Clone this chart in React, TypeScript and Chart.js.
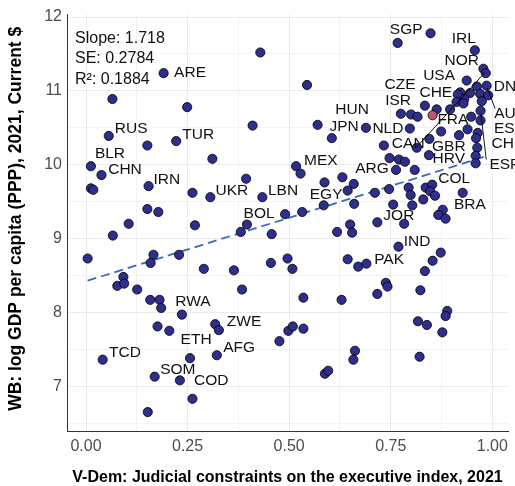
import React, { useEffect, useRef } from 'react';
import { Chart, registerables } from 'chart.js';
Chart.register(...registerables);

// V-Dem judicial constraints index (x) and log GDP per capita (y)
const judicialX = [
  0.191, 0.065, 0.249, 0.056, 0.151, 0.222, 0.311, 0.012, 0.038, 0.012, 0.018, 0.154, 0.262, 0.306,
  0.151, 0.178, 0.105, 0.268, 0.066, 0.004, 0.166, 0.159, 0.229, 0.290, 0.092, 0.077, 0.094, 0.126,
  0.158, 0.181, 0.185, 0.236, 0.176, 0.205, 0.318, 0.327, 0.041, 0.256, 0.322, 0.169, 0.231, 0.262,
  0.152,
  0.429, 0.544, 0.410, 0.570, 0.605, 0.689, 0.517, 0.528, 0.394, 0.587, 0.631, 0.659, 0.644, 0.434,
  0.660, 0.585, 0.490, 0.532, 0.396, 0.381, 0.457, 0.650, 0.618, 0.655, 0.455, 0.496, 0.508, 0.364,
  0.644, 0.670, 0.690, 0.384, 0.535, 0.629, 0.476, 0.498, 0.509, 0.535, 0.662, 0.658, 0.588, 0.596,
  0.848, 0.767, 0.957, 0.978, 0.984, 0.937, 0.986, 0.962, 0.921, 0.945, 0.970, 0.990, 0.915, 0.931,
  0.912, 0.929, 0.974, 0.834, 0.863, 0.896, 0.948, 0.971, 0.971, 0.775, 0.800, 0.816, 0.797,
  0.874, 0.918, 0.939, 0.964, 0.960, 0.963, 0.959, 0.959, 0.845, 0.814, 0.844, 0.733, 0.747, 0.770,
  0.785, 0.763, 0.809, 0.711, 0.746, 0.794, 0.799, 0.836, 0.852, 0.847, 0.859, 0.830, 0.927, 0.756,
  0.803, 0.878, 0.867, 0.885, 0.717, 0.783, 0.769, 0.873, 0.853, 0.834, 0.738, 0.742, 0.717, 0.823,
  0.889, 0.885, 0.817, 0.839, 0.877, 0.821,
];
const gdpY = [
  11.24, 10.89, 10.78, 10.39, 10.26, 10.32, 10.08, 9.98, 9.86, 9.68, 9.66, 9.71, 9.62, 9.56,
  9.40, 9.36, 9.20, 9.18, 9.04, 8.73, 8.78, 8.67, 8.78, 8.59, 8.48, 8.36, 8.39, 8.31,
  8.17, 8.17, 8.06, 7.97, 7.81, 7.75, 7.84, 7.76, 7.36, 7.38, 7.42, 7.13, 7.08, 6.83,
  6.65,
  11.52, 11.08, 10.53, 10.54, 10.36, 10.50, 9.98, 9.88, 9.81, 9.76, 9.83, 9.74, 9.65, 9.56,
  9.47, 9.45, 9.33, 9.36, 9.19, 9.09, 9.06, 9.19, 9.09, 9.08, 8.67, 8.73, 8.59, 8.57,
  8.72, 8.62, 8.66, 8.31, 8.20, 8.17, 7.61, 7.75, 7.81, 7.78, 7.48, 7.36, 7.17, 7.21,
  11.78, 11.65, 11.55, 11.30, 11.24, 11.14, 11.07, 11.06, 10.98, 10.97, 10.96, 10.94, 10.95, 10.89,
  10.85, 10.83, 10.86, 10.80, 10.75, 10.75, 10.65, 10.73, 10.60, 10.69, 10.68, 10.65, 10.49,
  10.45, 10.40, 10.48, 10.43, 10.36, 10.23, 10.12, 10.02, 10.35, 10.23, 10.13, 10.26, 10.09, 10.07,
  10.04, 9.93, 9.93, 9.62, 9.67, 9.69, 9.59, 9.69, 9.73, 9.64, 9.58, 9.53, 9.62, 9.46,
  9.45, 9.39, 9.32, 9.27, 9.22, 9.20, 8.89, 8.81, 8.70, 8.56, 8.40, 8.35, 8.25, 8.30,
  8.02, 7.95, 7.88, 7.83, 7.73, 7.40,
];

// highlighted country (red)
const highlightX = [0.853];
const highlightY = [10.67];

// fit statistics
const fitSlope = 1.718;
const fitIntercept = 8.423;
const statsLines = ['Slope: 1.718', 'SE: 0.2784', 'R\u00b2: 0.1884'];

// country labels (text centres, data units)
const labelCodes = ['ARE', 'RUS', 'TUR', 'BLR', 'CHN', 'IRN', 'UKR', 'LBN', 'MEX', 'EGY', 'BOL', 'ARG',
  'HUN', 'JPN', 'NLD', 'ISR', 'CZE', 'SGP', 'IRL', 'NOR', 'USA', 'CHE', 'DNK', 'FRA', 'AUS', 'EST',
  'CAN', 'GBR', 'CHL', 'HRV', 'ESP', 'COL', 'BRA', 'JOR', 'IND', 'PAK', 'RWA', 'ETH', 'ZWE', 'AFG',
  'TCD', 'SOM', 'COD'];
const labelX = [0.256, 0.111, 0.276, 0.059, 0.096, 0.199, 0.359, 0.485, 0.578, 0.591, 0.426, 0.704,
  0.655, 0.635, 0.743, 0.768, 0.773, 0.788, 0.930, 0.925, 0.869, 0.861, 1.044, 0.903, 1.044, 1.041,
  0.793, 0.893, 1.036, 0.893, 1.031, 0.906, 0.945, 0.770, 0.815, 0.746, 0.263, 0.271, 0.389, 0.377,
  0.096, 0.226, 0.308];
const labelY = [11.25, 10.49, 10.41, 10.15, 9.93, 9.80, 9.65, 9.65, 10.06, 9.60, 9.34, 9.95,
  10.74, 10.51, 10.49, 10.86, 11.09, 11.83, 11.71, 11.41, 11.21, 10.97, 11.05, 10.61, 10.69, 10.49,
  10.28, 10.24, 10.28, 10.08, 10.00, 9.81, 9.46, 9.31, 8.96, 8.72, 8.14, 7.63, 7.87, 7.52,
  7.46, 7.23, 7.08];

// label connector segments [x1, y1, x2, y2]
const segments = [
  [0.812, 10.23, 0.982, 11.25],
  [0.987, 11.04, 1.007, 10.76],
  [0.972, 10.69, 0.985, 10.07],
];

const xMajor = [0, 0.25, 0.5, 0.75, 1];
const xMinor = [0.125, 0.375, 0.625, 0.875];
const yMajor = [7, 8, 9, 10, 11, 12];
const yMinor = [6.5, 7.5, 8.5, 9.5, 10.5, 11.5];

const FONT = '"Liberation Sans", Arial, sans-serif';

export default function App() {
  const ref = useRef<HTMLCanvasElement | null>(null);
  useEffect(() => {
    document.body.style.margin = '0';
    const canvas = ref.current;
    if (!canvas) return;
    const xs = judicialX;
    const xmin = Math.min(...xs);
    const xmax = Math.max(...xs);

    const annot = {
      id: 'annot',
      afterDatasetsDraw(chart: any) {
        const { ctx, scales, chartArea } = chart;
        const sx = scales.x, sy = scales.y;
        ctx.save();
        ctx.strokeStyle = '#000';
        ctx.lineWidth = 0.9;
        segments.forEach((s) => {
          ctx.beginPath();
          ctx.moveTo(sx.getPixelForValue(s[0]), sy.getPixelForValue(s[1]));
          ctx.lineTo(sx.getPixelForValue(s[2]), sy.getPixelForValue(s[3]));
          ctx.stroke();
        });
        ctx.fillStyle = '#111';
        ctx.font = `15.5px ${FONT}`;
        ctx.textAlign = 'center';
        ctx.textBaseline = 'middle';
        labelCodes.forEach((c, i) => {
          ctx.fillText(c, sx.getPixelForValue(labelX[i]), sy.getPixelForValue(labelY[i]));
        });
        ctx.textAlign = 'left';
        ctx.font = `16px ${FONT}`;
        statsLines.forEach((s, i) => {
          ctx.fillText(s, chartArea.left + 8, chartArea.top + 24 + i * 20.3);
        });
        ctx.restore();
      },
      afterDraw(chart: any) {
        const { ctx, chartArea } = chart;
        ctx.save();
        ctx.fillStyle = '#000';
        ctx.font = `bold 16px ${FONT}`;
        ctx.textAlign = 'center';
        ctx.textBaseline = 'middle';
        ctx.fillText('V-Dem: Judicial constraints on the executive index, 2021',
          (chartArea.left + chartArea.right) / 2, 478);
        ctx.font = `bold 17.5px ${FONT}`;
        ctx.translate(16, (chartArea.top + chartArea.bottom) / 2 - 4);
        ctx.rotate(-Math.PI / 2);
        ctx.fillText('WB: log GDP per capita (PPP), 2021, Current $', 0, 0);
        ctx.restore();
      },
    };

    const gridWidth = (majors: number[]) => (c: any) => {
      const v = c.tick ? c.tick.value : 0;
      return majors.some((m) => Math.abs(m - v) < 1e-9) ? 1 : 0.6;
    };

    const chart = new Chart(canvas, {
      type: 'scatter',
      data: {
        datasets: [
          {
            type: 'line',
            data: [
              { x: xmin, y: fitIntercept + fitSlope * xmin },
              { x: xmax, y: fitIntercept + fitSlope * xmax },
            ],
            borderColor: '#3a68bf',
            borderWidth: 1.8,
            borderDash: [9, 5],
            pointRadius: 0,
            fill: false,
            order: 3,
          } as any,
          {
            data: judicialX.map((x, i) => ({ x, y: gdpY[i] })),
            backgroundColor: '#2e2e8c',
            borderColor: '#000',
            borderWidth: 0.8,
            pointRadius: 4.6,
            order: 2,
          },
          {
            data: highlightX.map((x, i) => ({ x, y: highlightY[i] })),
            backgroundColor: '#c0566b',
            borderColor: '#000',
            borderWidth: 0.8,
            pointRadius: 4.6,
            order: 1,
          },
        ],
      },
      options: {
        animation: false,
        responsive: false,
        events: [],
        layout: { padding: { top: 12, right: 7, left: 0, bottom: 0 } },
        plugins: { legend: { display: false }, tooltip: { enabled: false } },
        scales: {
          x: {
            type: 'linear',
            min: -0.0468,
            max: 1.0386,
            afterBuildTicks: (s: any) => {
              s.ticks = [...xMajor, ...xMinor].sort((a, b) => a - b).map((v) => ({ value: v }));
            },
            afterFit: (s: any) => { s.height = 55; },
            ticks: {
              autoSkip: false,
              maxRotation: 0,
              padding: 6,
              color: '#4d4d4d',
              font: { family: FONT, size: 16 },
              callback: (v: any) => (xMajor.some((m) => Math.abs(m - Number(v)) < 1e-9) ? Number(v).toFixed(2) : ''),
            },
            grid: { color: '#ebebeb', lineWidth: gridWidth(xMajor), drawTicks: false },
            border: { display: true, color: '#333333', width: 1 },
          },
          y: {
            type: 'linear',
            min: 6.394,
            max: 12.033,
            afterBuildTicks: (s: any) => {
              s.ticks = [...yMajor, ...yMinor].sort((a, b) => a - b).map((v) => ({ value: v }));
            },
            afterFit: (s: any) => { s.width = 67; },
            ticks: {
              autoSkip: false,
              padding: 5,
              color: '#4d4d4d',
              font: { family: FONT, size: 16 },
              callback: (v: any) => (yMajor.some((m) => Math.abs(m - Number(v)) < 1e-9) ? String(v) : ''),
            },
            grid: { color: '#ebebeb', lineWidth: gridWidth(yMajor), drawTicks: false },
            border: { display: true, color: '#333333', width: 1 },
          },
        },
      },
      plugins: [annot],
    });
    return () => chart.destroy();
  }, []);

  return (
    <div style={{ position: 'absolute', left: 0, top: 0, width: 515, height: 486, background: '#fff' }}>
      <canvas ref={ref} width={515} height={486} style={{ width: 515, height: 486, display: 'block' }} />
    </div>
  );
}
